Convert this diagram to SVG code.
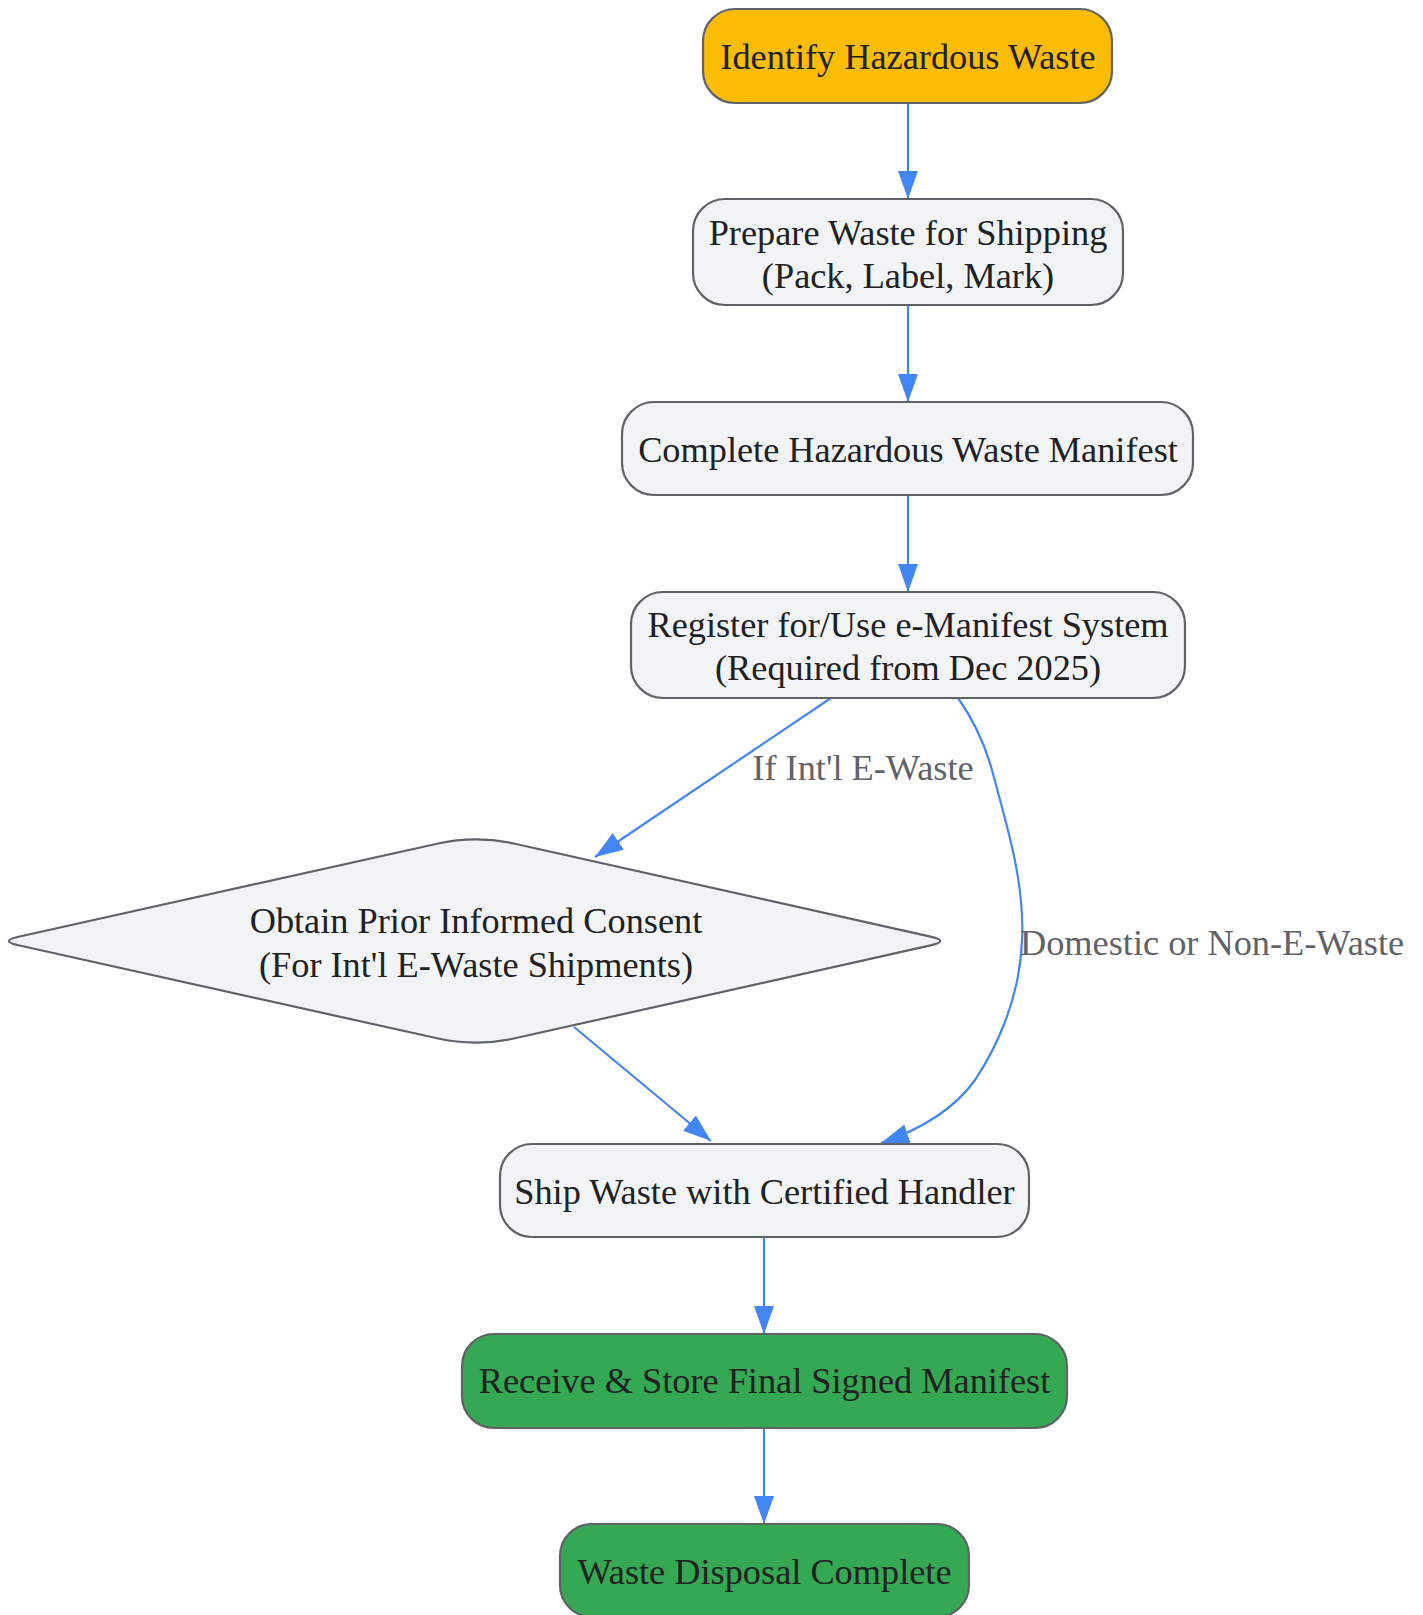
<svg xmlns="http://www.w3.org/2000/svg" width="1423" height="1615" viewBox="0 0 1423 1615">
<style>
.node{stroke:#5f6368;stroke-width:2.2}
.gray{fill:#f1f3f4}
.yellow{fill:#fbbc05}
.green{fill:#34a853}
.t{font-family:"Liberation Serif","Times New Roman",serif;font-size:36.3px;fill:#202124;text-anchor:middle}
.lbl{font-family:"Liberation Serif","Times New Roman",serif;font-size:36.3px;fill:#5f6368}
.edge{fill:none;stroke:#4285f4;stroke-width:2.2;marker-end:url(#arr)}
</style>
<defs>
<marker id="arr" viewBox="0 0 28 20" refX="28" refY="10" markerWidth="28" markerHeight="20" markerUnits="userSpaceOnUse" orient="auto">
<path d="M0,0 L28,10 L0,20 Z" fill="#4285f4"/>
</marker>
</defs>
<rect width="1423" height="1615" fill="#ffffff"/>
<g id="connectors">
<path class="edge" d="M908,103 L908,199"/>
<path class="edge" d="M908,305 L908,402"/>
<path class="edge" d="M908,495 L908,592"/>
<path class="edge" d="M831,698 L595,857"/>
<path class="edge" d="M958,698 C975,722 985,745 992,770 C1005,820 1025,880 1022,940 C1020,1000 995,1050 975,1080 C955,1108 925,1128 881,1143"/>
<path class="edge" d="M574,1027 L711,1141"/>
<path class="edge" d="M764,1237 L764,1334"/>
<path class="edge" d="M764,1428 L764,1524"/>
<text class="lbl" x="863" y="780" text-anchor="middle">If Int'l E-Waste</text>
<text class="lbl" x="1020" y="955">Domestic or Non-E-Waste</text>
</g>
<g id="identify">
<rect class="node yellow" x="703" y="9" width="409" height="94" rx="32"/>
<text class="t" x="908" y="69">Identify Hazardous Waste</text>
</g>
<g id="prepare">
<rect class="node gray" x="693" y="199" width="430" height="106" rx="32"/>
<text class="t" x="908" y="245">Prepare Waste for Shipping</text>
<text class="t" x="908" y="288">(Pack, Label, Mark)</text>
</g>
<g id="complete">
<rect class="node gray" x="622" y="402" width="571" height="93" rx="32"/>
<text class="t" x="908" y="462">Complete Hazardous Waste Manifest</text>
</g>
<g id="register">
<rect class="node gray" x="631" y="592" width="554" height="106" rx="32"/>
<text class="t" x="908" y="637">Register for/Use e-Manifest System</text>
<text class="t" x="908" y="680">(Required from Dec 2025)</text>
</g>
<g id="consent">
<path class="node gray" d="M437,843.7 Q476,835 515,843.7 L930.5,936.6 Q950,941 930.5,945.4 L515,1038.3 Q476,1047 437,1038.3 L18.5,945.3 Q-1,941 18.5,936.7 Z"/>
<text class="t" x="476" y="933">Obtain Prior Informed Consent</text>
<text class="t" x="476" y="977">(For Int'l E-Waste Shipments)</text>
</g>
<g id="ship">
<rect class="node gray" x="500" y="1144" width="529" height="93" rx="32"/>
<text class="t" x="764.5" y="1204">Ship Waste with Certified Handler</text>
</g>
<g id="receive">
<rect class="node green" x="462" y="1334" width="605" height="94" rx="32"/>
<text class="t" x="764.5" y="1393">Receive &amp; Store Final Signed Manifest</text>
</g>
<g id="done">
<rect class="node green" x="560" y="1524" width="409" height="93" rx="32"/>
<text class="t" x="764.5" y="1584">Waste Disposal Complete</text>
</g>
</svg>
